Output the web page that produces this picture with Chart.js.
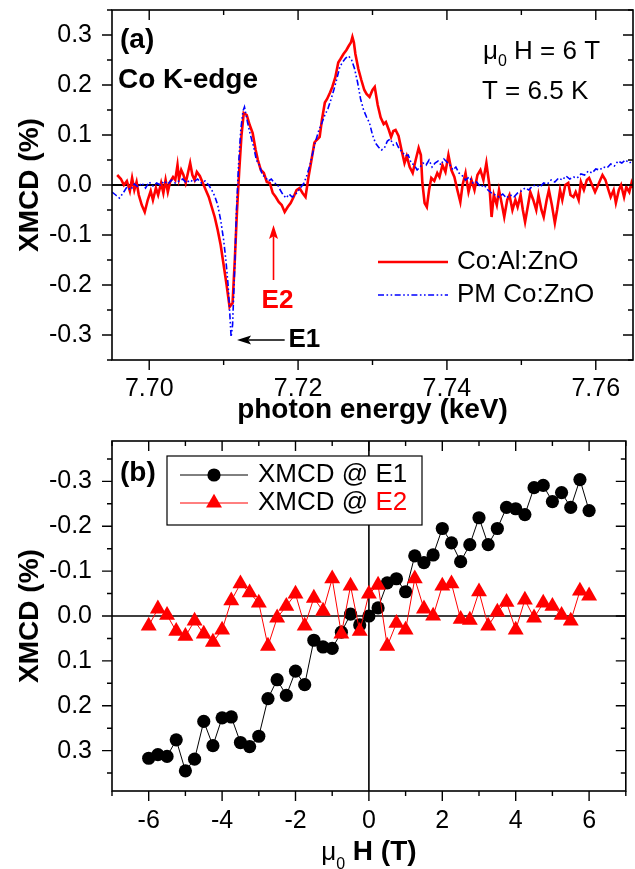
<!DOCTYPE html>
<html>
<head>
<meta charset="utf-8">
<script src="https://cdn.jsdelivr.net/npm/chart.js@4.4.1/dist/chart.umd.min.js"></script>
<style>
  html, body { margin: 0; padding: 0; background: #fff; }
  canvas { position: absolute; left: 0; }
  #chartA { top: 0; }
  #chartB { top: 430px; }
</style>
</head>
<body>
<canvas id="chartA" width="635" height="430"></canvas>
<canvas id="chartB" width="635" height="439"></canvas>
<script>
// ---- panel (a): XMCD spectra at the Co K-edge ----
const alEnergy = [7.6957, 7.6962, 7.6966, 7.6970, 7.6974, 7.6977, 7.6980, 7.6983, 7.6986, 7.6990,
  7.6994, 7.6998, 7.7002, 7.7005, 7.7009, 7.7012, 7.7016, 7.7019, 7.7022, 7.7025,
  7.7028, 7.7032, 7.7035, 7.7038, 7.7040, 7.7043, 7.7046, 7.7049, 7.7052, 7.7055,
  7.7058, 7.7061, 7.7064, 7.7068, 7.7072, 7.7076, 7.7080, 7.7084, 7.7088, 7.7092,
  7.7096, 7.7100, 7.7104, 7.7108, 7.7112, 7.7115, 7.7118, 7.7121, 7.7124, 7.7127,
  7.7131, 7.7135, 7.7139, 7.7143, 7.7146, 7.7150, 7.7154, 7.7158, 7.7162, 7.7166,
  7.7170, 7.7174, 7.7178, 7.7182, 7.7186, 7.7190, 7.7194, 7.7198, 7.7202, 7.7206,
  7.7210, 7.7214, 7.7218, 7.7222, 7.7225, 7.7229, 7.7232, 7.7236, 7.7239, 7.7243,
  7.7246, 7.7250, 7.7254, 7.7257, 7.7261, 7.7265, 7.7268, 7.7271, 7.7273, 7.7275,
  7.7277, 7.7281, 7.7285, 7.7289, 7.7292, 7.7296, 7.7300, 7.7303, 7.7307, 7.7311,
  7.7315, 7.7318, 7.7322, 7.7325, 7.7328, 7.7331, 7.7335, 7.7339, 7.7343, 7.7346,
  7.7350, 7.7354, 7.7358, 7.7362, 7.7365, 7.7367, 7.7370, 7.7373, 7.7376, 7.7379,
  7.7383, 7.7387, 7.7390, 7.7394, 7.7398, 7.7402, 7.7406, 7.7410, 7.7414, 7.7418,
  7.7421, 7.7425, 7.7429, 7.7433, 7.7437, 7.7441, 7.7445, 7.7449, 7.7453, 7.7457,
  7.7460, 7.7463, 7.7467, 7.7470, 7.7474, 7.7477, 7.7481, 7.7484, 7.7488, 7.7492,
  7.7495, 7.7499, 7.7502, 7.7505, 7.7509, 7.7512, 7.7516, 7.7520, 7.7523, 7.7527,
  7.7530, 7.7534, 7.7537, 7.7541, 7.7545, 7.7548, 7.7552, 7.7555, 7.7559, 7.7563,
  7.7566, 7.7570, 7.7573, 7.7577, 7.7580, 7.7584, 7.7588, 7.7591, 7.7595, 7.7599,
  7.7602, 7.7606, 7.7609, 7.7613, 7.7617, 7.7620, 7.7624, 7.7627, 7.7631, 7.7634,
  7.7638, 7.7641, 7.7645, 7.7648, 7.7650];
const alXmcd = [0.020, 0.012, 0.000, 0.008, -0.012, 0.014, -0.010, 0.006, -0.020, -0.040,
  -0.054, -0.030, -0.012, -0.030, -0.006, -0.020, 0.004, -0.016, 0.010, -0.014,
  0.006, 0.016, 0.010, 0.040, 0.012, 0.030, 0.020, 0.004, 0.024, 0.044,
  0.020, 0.010, 0.026, 0.018, 0.004, -0.010, -0.024, -0.044, -0.064, -0.090,
  -0.120, -0.160, -0.200, -0.244, -0.236, -0.150, -0.050, 0.030, 0.100, 0.144,
  0.140, 0.120, 0.104, 0.070, 0.050, 0.030, 0.024, 0.006, 0.004, -0.016,
  -0.024, -0.034, -0.040, -0.054, -0.044, -0.036, -0.024, -0.010, -0.006, -0.016,
  -0.024, 0.016, 0.050, 0.085, 0.090, 0.096, 0.130, 0.165, 0.172, 0.185,
  0.196, 0.215, 0.245, 0.252, 0.262, 0.270, 0.278, 0.285, 0.296, 0.285,
  0.262, 0.232, 0.210, 0.190, 0.182, 0.176, 0.190, 0.196, 0.160, 0.135,
  0.122, 0.126, 0.110, 0.096, 0.108, 0.110, 0.098, 0.070, 0.044, 0.058,
  0.036, 0.024, 0.050, 0.074, 0.060, 0.004, -0.036, -0.044, -0.010, 0.014,
  0.008, 0.024, 0.016, 0.040, 0.026, 0.060, 0.030, 0.016, -0.010, -0.034,
  0.000, 0.024, -0.014, 0.010, -0.010, 0.020, 0.030, 0.010, 0.044, 0.000,
  -0.064, -0.020, -0.040, -0.010, -0.040, -0.064, -0.030, -0.020, -0.050, -0.030,
  -0.044, -0.020, -0.050, -0.074, -0.040, -0.014, -0.030, -0.050, -0.020, -0.050,
  -0.064, -0.030, -0.010, -0.040, -0.076, -0.050, -0.010, -0.030, 0.000, 0.004,
  -0.020, -0.024, -0.014, -0.030, 0.006, -0.010, 0.010, 0.014, 0.000, -0.014,
  -0.004, 0.010, 0.020, 0.010, -0.010, -0.024, -0.010, -0.036, -0.010, 0.000,
  -0.024, -0.004, -0.014, 0.004, -0.006];

const pmEnergy = [7.6950, 7.6955, 7.6960, 7.6965, 7.6970, 7.6975, 7.6980, 7.6985, 7.6990, 7.6995,
  7.7000, 7.7005, 7.7010, 7.7015, 7.7020, 7.7025, 7.7030, 7.7035, 7.7040, 7.7045,
  7.7050, 7.7055, 7.7060, 7.7065, 7.7070, 7.7075, 7.7080, 7.7084, 7.7088, 7.7092,
  7.7096, 7.7100, 7.7103, 7.7106, 7.7108, 7.7110, 7.7112, 7.7115, 7.7117, 7.7120,
  7.7123, 7.7126, 7.7128, 7.7132, 7.7136, 7.7140, 7.7144, 7.7148, 7.7152, 7.7156,
  7.7160, 7.7164, 7.7168, 7.7172, 7.7176, 7.7180, 7.7184, 7.7188, 7.7192, 7.7196,
  7.7200, 7.7204, 7.7208, 7.7212, 7.7216, 7.7220, 7.7224, 7.7228, 7.7232, 7.7236,
  7.7240, 7.7244, 7.7248, 7.7252, 7.7256, 7.7260, 7.7264, 7.7268, 7.7272, 7.7276,
  7.7280, 7.7284, 7.7288, 7.7292, 7.7296, 7.7300, 7.7304, 7.7308, 7.7312, 7.7316,
  7.7320, 7.7324, 7.7328, 7.7332, 7.7336, 7.7340, 7.7344, 7.7348, 7.7352, 7.7356,
  7.7360, 7.7364, 7.7368, 7.7372, 7.7376, 7.7380, 7.7384, 7.7388, 7.7392, 7.7396,
  7.7400, 7.7404, 7.7408, 7.7412, 7.7416, 7.7420, 7.7425, 7.7430, 7.7435, 7.7440,
  7.7445, 7.7450, 7.7455, 7.7460, 7.7465, 7.7470, 7.7475, 7.7480, 7.7485, 7.7490,
  7.7495, 7.7500, 7.7505, 7.7510, 7.7515, 7.7520, 7.7525, 7.7530, 7.7535, 7.7540,
  7.7545, 7.7550, 7.7555, 7.7560, 7.7565, 7.7570, 7.7575, 7.7580, 7.7585, 7.7590,
  7.7595, 7.7600, 7.7605, 7.7610, 7.7615, 7.7620, 7.7625, 7.7630, 7.7635, 7.7640,
  7.7645, 7.7650];
const pmXmcd = [-0.014, -0.020, -0.026, -0.016, -0.004, -0.010, 0.002, -0.004, 0.004, -0.006,
  0.006, -0.002, 0.004, 0.000, 0.008, 0.002, 0.010, 0.004, 0.008, 0.012,
  0.004, 0.010, 0.006, 0.012, 0.004, 0.008, 0.000, -0.010, -0.022, -0.040,
  -0.070, -0.110, -0.150, -0.200, -0.250, -0.304, -0.280, -0.160, -0.060, 0.040,
  0.110, 0.148, 0.156, 0.126, 0.100, 0.078, 0.050, 0.040, 0.020, 0.016,
  0.008, 0.012, 0.004, 0.002, -0.010, -0.020, -0.026, -0.018, -0.024, -0.020,
  -0.012, -0.004, 0.004, 0.020, 0.040, 0.066, 0.090, 0.110, 0.124, 0.140,
  0.152, 0.170, 0.190, 0.212, 0.236, 0.246, 0.254, 0.258, 0.250, 0.232,
  0.205, 0.172, 0.150, 0.136, 0.124, 0.100, 0.084, 0.076, 0.070, 0.074,
  0.088, 0.092, 0.080, 0.084, 0.072, 0.066, 0.058, 0.060, 0.044, 0.040,
  0.030, 0.036, 0.044, 0.040, 0.050, 0.036, 0.044, 0.048, 0.040, 0.052,
  0.046, 0.040, 0.030, 0.036, 0.024, 0.020, 0.010, 0.016, 0.004, 0.006,
  -0.004, 0.000, -0.010, -0.016, -0.020, -0.024, -0.018, -0.026, -0.020, -0.024,
  -0.016, -0.012, -0.006, -0.010, -0.002, 0.000, -0.004, 0.004, 0.002, 0.010,
  0.006, 0.014, 0.010, 0.018, 0.012, 0.016, 0.014, 0.022, 0.020, 0.028,
  0.024, 0.032, 0.030, 0.036, 0.034, 0.042, 0.038, 0.048, 0.044, 0.050,
  0.044, 0.048];
const energyTicks = [7.70, 7.72, 7.74, 7.76];
const xmcdTicksA = [-0.3, -0.2, -0.1, 0, 0.1, 0.2, 0.3];

// ---- panel (b): field dependence at E1 and E2 ----
const fieldT = [-6, -5.75, -5.5, -5.25, -5, -4.75, -4.5, -4.25, -4, -3.75, -3.5, -3.25, -3,
  -2.75, -2.5, -2.25, -2, -1.75, -1.5, -1.25, -1, -0.75, -0.5, -0.25, 0,
  0.25, 0.5, 0.75, 1, 1.25, 1.5, 1.75, 2, 2.25, 2.5, 2.75, 3, 3.25, 3.5,
  3.75, 4, 4.25, 4.5, 4.75, 5, 5.25, 5.5, 5.75, 6];
const e1Xmcd = [0.317, 0.309, 0.313, 0.276, 0.345, 0.319, 0.235, 0.289, 0.227, 0.225, 0.282, 0.291, 0.268,
  0.184, 0.142, 0.177, 0.123, 0.153, 0.054, 0.069, 0.072, 0.036, -0.004, 0.020, 0.000,
  -0.018, -0.074, -0.083, -0.054, -0.134, -0.119, -0.136, -0.195, -0.163, -0.121, -0.159, -0.219, -0.159, -0.195,
  -0.242, -0.239, -0.226, -0.286, -0.291, -0.255, -0.275, -0.242, -0.304, -0.235];
const e2Xmcd = [0.022, -0.016, -0.002, 0.034, 0.045, 0.011, 0.040, 0.058, 0.031, -0.034, -0.072, -0.052, -0.029,
  0.067, 0.004, -0.022, -0.049, 0.022, -0.040, -0.011, -0.083, 0.040, -0.067, 0.034, -0.049,
  -0.069, 0.067, 0.016, 0.031, -0.083, -0.016, 0.000, -0.067, -0.072, 0.007, 0.009, -0.054, 0.022, -0.009,
  -0.031, 0.031, -0.036, 0.004, -0.029, -0.022, -0.002, 0.011, -0.056, -0.045];
const fieldTicks = [-6, -4, -2, 0, 2, 4, 6];
const xmcdTicksB = [-0.3, -0.2, -0.1, 0, 0.1, 0.2, 0.3];

const FONT = "'Liberation Sans', Arial, Helvetica, sans-serif";
const pairs = (xs, ys) => xs.map((v, i) => ({ x: v, y: ys[i] }));
const fmt = d => v => (Math.abs(v) < 1e-9 ? (0).toFixed(d) : v.toFixed(d));
const useTicks = list => s => { s.ticks = list.map(v => ({ value: v })); };
// keep the plot box where it is: no extra room for edge labels
const fixWidth = w => s => { s.width = w; s.paddingTop = 0; s.paddingBottom = 0; };
const fixHeight = h => s => { s.height = h; s.paddingLeft = 0; s.paddingRight = 0; };

// major ticks come from the scale, minor ticks sit half way between them
function tickMarks(scale) {
  const majors = scale.ticks.map(t => t.value);
  const step = majors[1] - majors[0];
  const minors = [];
  majors.forEach(v => [v - step / 2, v + step / 2].forEach(m => {
    if (m >= scale.min - 1e-9 && m <= scale.max + 1e-9 && !minors.some(o => Math.abs(o - m) < 1e-9)) minors.push(m);
  }));
  return { majors, minors };
}

const framePlugin = {
  id: 'frame',
  beforeDatasetsDraw(chart, args, opts) {
    const { ctx, chartArea: a, scales: { x, y } } = chart;
    ctx.save();
    ctx.strokeStyle = '#000';
    ctx.lineWidth = opts.zeroWidth || 1.6;
    ctx.beginPath();
    const y0 = y.getPixelForValue(0);
    ctx.moveTo(a.left, y0); ctx.lineTo(a.right, y0);
    if (opts.zeroX) {
      const x0 = x.getPixelForValue(0);
      ctx.moveTo(x0, a.top); ctx.lineTo(x0, a.bottom);
    }
    ctx.stroke();
    ctx.restore();
  },
  afterDatasetsDraw(chart) {
    const { ctx, chartArea: a, scales: { x, y } } = chart;
    ctx.save();
    ctx.strokeStyle = '#000';
    ctx.lineWidth = 1.6;
    ctx.strokeRect(a.left, a.top, a.right - a.left, a.bottom - a.top);
    ctx.lineWidth = 1.4;
    ctx.beginPath();
    const xt = tickMarks(x), yt = tickMarks(y);
    const doX = (vals, len) => vals.forEach(v => {
      const p = x.getPixelForValue(v);
      ctx.moveTo(p, a.bottom); ctx.lineTo(p, a.bottom + len);
      ctx.moveTo(p, a.top); ctx.lineTo(p, a.top + len);
    });
    const doY = (vals, len) => vals.forEach(v => {
      const p = y.getPixelForValue(v);
      ctx.moveTo(a.left, p); ctx.lineTo(a.left - len, p);
      ctx.moveTo(a.right, p); ctx.lineTo(a.right - len, p);
    });
    doX(xt.majors, 10); doX(xt.minors, 5);
    doY(yt.majors, 10); doY(yt.minors, 5);
    ctx.stroke();
    ctx.restore();
  }
};

function arrow(ctx, x1, y1, x2, y2, color) {
  const ang = Math.atan2(y2 - y1, x2 - x1);
  const hl = 14, hw = 4.5;
  ctx.strokeStyle = color; ctx.fillStyle = color; ctx.lineWidth = 1.6;
  ctx.beginPath();
  ctx.moveTo(x1, y1);
  ctx.lineTo(x2 - Math.cos(ang) * hl * 0.8, y2 - Math.sin(ang) * hl * 0.8);
  ctx.stroke();
  ctx.beginPath();
  ctx.moveTo(x2, y2);
  ctx.lineTo(x2 - Math.cos(ang) * hl - Math.sin(ang) * hw, y2 - Math.sin(ang) * hl + Math.cos(ang) * hw);
  ctx.lineTo(x2 - Math.cos(ang) * hl * 0.8, y2 - Math.sin(ang) * hl * 0.8);
  ctx.lineTo(x2 - Math.cos(ang) * hl + Math.sin(ang) * hw, y2 - Math.sin(ang) * hl - Math.cos(ang) * hw);
  ctx.closePath();
  ctx.fill();
}

const notesA = {
  id: 'notesA',
  afterDatasetsDraw(chart) {
    const { ctx, chartArea: a, scales: { x, y } } = chart;
    const ds = chart.data.datasets;
    ctx.save();
    ctx.textBaseline = 'middle';
    ctx.textAlign = 'left';
    ctx.fillStyle = '#000';
    ctx.font = `bold 28px ${FONT}`;
    ctx.fillText('(a)', a.left + 8, a.top + 30);
    ctx.fillText('Co K-edge', a.left + 6, a.top + 70);

    // field and temperature
    let px = a.left + 371;
    ctx.font = `26px ${FONT}`;
    ctx.fillText('\u03bc', px, a.top + 42); px += ctx.measureText('\u03bc').width;
    ctx.font = `16px ${FONT}`;
    ctx.fillText('0', px, a.top + 52); px += ctx.measureText('0').width;
    ctx.font = `26px ${FONT}`;
    ctx.fillText(' H = 6 T', px, a.top + 42);
    ctx.fillText('T = 6.5 K', a.left + 370, a.top + 82);

    // legend, drawn from the dataset styles
    [ds[1], ds[0]].forEach((d, i) => {
      const ly = a.top + 252 + i * 33;
      ctx.save();
      ctx.strokeStyle = d.borderColor;
      ctx.lineWidth = d.borderWidth;
      ctx.setLineDash(d.borderDash || []);
      ctx.beginPath(); ctx.moveTo(a.left + 266, ly); ctx.lineTo(a.left + 336, ly); ctx.stroke();
      ctx.restore();
      ctx.fillStyle = '#000';
      ctx.font = `26px ${FONT}`;
      ctx.fillText(d.label, a.left + 345, ly);
    });

    // E2 marker (red arrow up) and E1 marker (black arrow left)
    const ex = x.getPixelForValue(7.7167);
    arrow(ctx, ex, y.getPixelForValue(-0.19), ex, y.getPixelForValue(-0.08), '#ff0000');
    ctx.fillStyle = '#ff0000';
    ctx.font = `bold 26px ${FONT}`;
    ctx.textAlign = 'center';
    ctx.fillText('E2', ex + 4, y.getPixelForValue(-0.232));
    const e1y = y.getPixelForValue(-0.31);
    arrow(ctx, x.getPixelForValue(7.7182), e1y, x.getPixelForValue(7.7118), e1y, '#000');
    ctx.fillStyle = '#000';
    ctx.textAlign = 'left';
    ctx.fillText('E1', x.getPixelForValue(7.7187), e1y);
    ctx.restore();
  }
};

const notesB = {
  id: 'notesB',
  afterDatasetsDraw(chart) {
    const { ctx, chartArea: a } = chart;
    const ds = chart.data.datasets;
    ctx.save();
    ctx.textBaseline = 'middle';
    ctx.textAlign = 'left';
    ctx.fillStyle = '#000';
    ctx.font = `bold 28px ${FONT}`;
    ctx.fillText('(b)', a.left + 8, a.top + 32);

    const bx = a.left + 55, by = a.top + 15, bw = 255, bh = 69;
    ctx.fillStyle = '#fff';
    ctx.fillRect(bx, by, bw, bh);
    ctx.strokeStyle = '#000';
    ctx.lineWidth = 1.2;
    ctx.strokeRect(bx, by, bw, bh);
    const rows = [{ d: ds[1], tag: 'E1', tagColor: '#000' }, { d: ds[0], tag: 'E2', tagColor: '#ff0000' }];
    rows.forEach((r, i) => {
      const ly = by + 19 + i * 28;
      ctx.strokeStyle = r.d.borderColor;
      ctx.lineWidth = r.d.borderWidth;
      ctx.beginPath(); ctx.moveTo(bx + 13, ly); ctx.lineTo(bx + 81, ly); ctx.stroke();
      ctx.fillStyle = r.d.pointBackgroundColor;
      Chart.helpers.drawPoint(ctx, { pointStyle: r.d.pointStyle, radius: r.d.pointRadius, rotation: 0, borderWidth: 0 }, bx + 47, ly);
      ctx.font = `26px ${FONT}`;
      ctx.fillStyle = '#000';
      const head = 'XMCD @ ';
      ctx.fillText(head, bx + 91, ly);
      ctx.fillStyle = r.tagColor;
      ctx.fillText(r.tag, bx + 91 + ctx.measureText(head).width, ly);
    });
    ctx.restore();
  },
  afterDraw(chart) {
    // axis title with a regular mu and subscript 0 next to a bold H (T)
    const { ctx, chartArea: a } = chart;
    ctx.save();
    ctx.fillStyle = '#000';
    ctx.textBaseline = 'alphabetic';
    ctx.textAlign = 'left';
    const parts = [
      { t: '\u03bc', f: `26px ${FONT}`, dy: 0 },
      { t: '0', f: `16px ${FONT}`, dy: 9 },
      { t: ' H (T)', f: `bold 28px ${FONT}`, dy: 0 }
    ];
    let w = 0;
    parts.forEach(p => { ctx.font = p.f; p.w = ctx.measureText(p.t).width; w += p.w; });
    let px = (a.left + a.right) / 2 - w / 2;
    const base = chart.height - 9;
    parts.forEach(p => { ctx.font = p.f; ctx.fillText(p.t, px, base + p.dy); px += p.w; });
    ctx.restore();
  }
};

const tickFont = { family: FONT, size: 25 };
const titleFont = { family: FONT, size: 28, weight: 'bold' };

new Chart(document.getElementById('chartA'), {
  type: 'line',
  data: {
    datasets: [
      { label: 'PM Co:ZnO', data: pairs(pmEnergy, pmXmcd), borderColor: '#0000ff', borderWidth: 1.6,
        borderDash: [6, 2.5, 1.6, 2.5, 1.6, 2.5], pointRadius: 0, order: 0 },
      { label: 'Co:Al:ZnO', data: pairs(alEnergy, alXmcd), borderColor: '#ff0000', borderWidth: 2.6,
        pointRadius: 0, order: 1 }
    ]
  },
  options: {
    responsive: false,
    animation: false,
    layout: { padding: { top: 10, right: 2, left: 0, bottom: 0 } },
    plugins: { legend: { display: false }, tooltip: { enabled: false }, frame: { zeroWidth: 2.2 } },
    scales: {
      x: {
        type: 'linear', min: 7.695, max: 7.765,
        grid: { display: false, drawTicks: false }, border: { display: false },
        ticks: { padding: 14, font: tickFont, color: '#000', maxRotation: 0, autoSkip: false, callback: fmt(2) },
        title: { display: true, text: 'photon energy (keV)', font: titleFont, color: '#000', padding: { top: 0, bottom: 3 } },
        afterBuildTicks: useTicks(energyTicks),
        afterFit: fixHeight(70)
      },
      y: {
        min: -0.35, max: 0.35,
        grid: { display: false, drawTicks: false }, border: { display: false },
        ticks: { padding: 20, font: tickFont, color: '#000', callback: fmt(1) },
        title: { display: true, text: 'XMCD (%)', font: titleFont, color: '#000', padding: { top: 13, bottom: 0 } },
        afterBuildTicks: useTicks(xmcdTicksA),
        afterFit: fixWidth(112)
      }
    }
  },
  plugins: [framePlugin, notesA]
});

new Chart(document.getElementById('chartB'), {
  type: 'line',
  data: {
    datasets: [
      { label: 'XMCD @ E2', data: pairs(fieldT, e2Xmcd), borderColor: '#ff0000', borderWidth: 1,
        pointStyle: 'triangle', pointRadius: 9.2, pointBackgroundColor: '#ff0000', pointBorderWidth: 0, order: 0 },
      { label: 'XMCD @ E1', data: pairs(fieldT, e1Xmcd), borderColor: '#000000', borderWidth: 1,
        pointStyle: 'circle', pointRadius: 6.6, pointBackgroundColor: '#000000', pointBorderWidth: 0, order: 1 }
    ]
  },
  options: {
    responsive: false,
    animation: false,
    layout: { padding: { top: 11, right: 2, left: 0, bottom: 0 } },
    plugins: { legend: { display: false }, tooltip: { enabled: false }, frame: { zeroX: true, zeroWidth: 1.6 } },
    scales: {
      x: {
        type: 'linear', min: -7, max: 7,
        grid: { display: false, drawTicks: false }, border: { display: false },
        ticks: { padding: 15, font: tickFont, color: '#000', maxRotation: 0, autoSkip: false, callback: v => String(v) },
        title: { display: false },
        afterBuildTicks: useTicks(fieldTicks),
        afterFit: fixHeight(78)
      },
      y: {
        min: -0.39, max: 0.39, reverse: true,
        grid: { display: false, drawTicks: false }, border: { display: false },
        ticks: { padding: 20, font: tickFont, color: '#000', callback: fmt(1) },
        title: { display: true, text: 'XMCD (%)', font: titleFont, color: '#000', padding: { top: 13, bottom: 0 } },
        afterBuildTicks: useTicks(xmcdTicksB),
        afterFit: fixWidth(112)
      }
    }
  },
  plugins: [framePlugin, notesB]
});
</script>
</body>
</html>
